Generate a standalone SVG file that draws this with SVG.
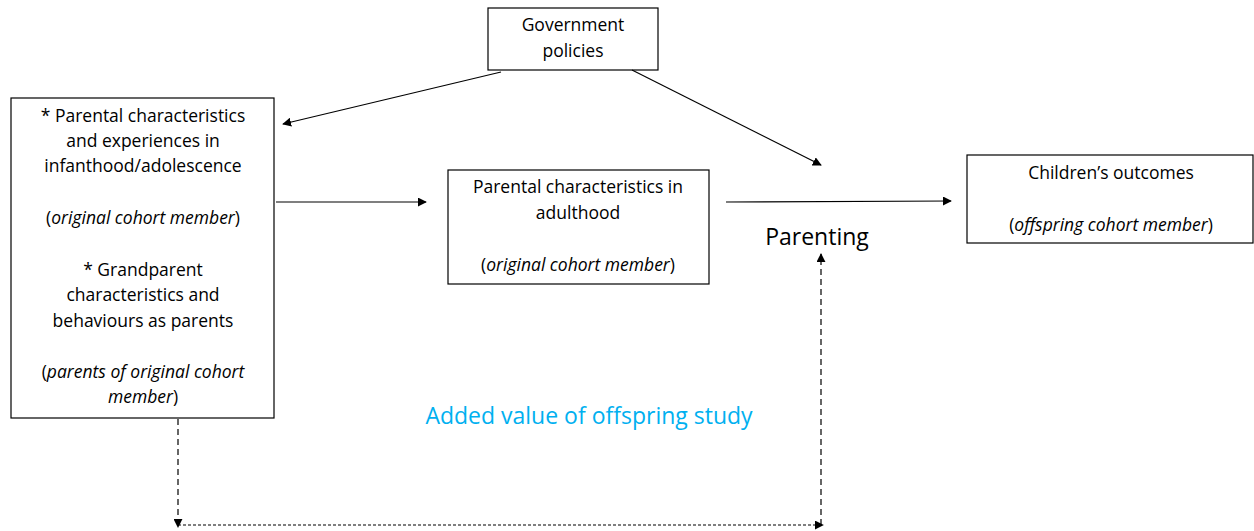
<svg xmlns="http://www.w3.org/2000/svg" width="1254" height="531" viewBox="0 0 1254 531">
<style>
.box{fill:#fff;stroke:#000;stroke-width:1.2}
text{font-family:"Open Sans","Liberation Sans",Arial,sans-serif;font-size:17.5px;fill:#000;text-anchor:middle}
.i{font-style:italic}
.ln{stroke:#000;stroke-width:1.2;fill:none}
.d1{stroke-dasharray:6,4}
.d2{stroke-dasharray:3,2}
</style>
<defs>
<marker id="ah" viewBox="0 0 10 10" refX="9" refY="5" markerWidth="9" markerHeight="9" markerUnits="userSpaceOnUse" orient="auto">
<path d="M0,0 L10,5 L0,10 z" fill="#000"/>
</marker>
</defs>
<g id="gov">
<rect class="box" x="488" y="8" width="170" height="62"/>
<text x="573" y="31">Government</text>
<text x="573" y="57">policies</text>
</g>
<g id="left">
<rect class="box" x="11" y="98" width="263" height="320"/>
<text x="143" y="122">* Parental characteristics</text>
<text x="143" y="147">and experiences in</text>
<text x="143" y="172">infanthood/adolescence</text>
<text x="143" y="224">(<tspan class="i">original cohort member</tspan>)</text>
<text x="143" y="276">* Grandparent</text>
<text x="143" y="301">characteristics and</text>
<text x="143" y="327">behaviours as parents</text>
<text x="143" y="378">(<tspan class="i">parents of original cohort</tspan></text>
<text x="143" y="403"><tspan class="i">member</tspan>)</text>
</g>
<g id="middle">
<rect class="box" x="448" y="170" width="261" height="114"/>
<text x="578" y="193">Parental characteristics in</text>
<text x="578" y="219">adulthood</text>
<text x="578" y="271">(<tspan class="i">original cohort member</tspan>)</text>
</g>
<g id="right">
<rect class="box" x="967" y="155" width="286" height="88"/>
<text x="1111" y="179">Children’s outcomes</text>
<text x="1111" y="231">(<tspan class="i">offspring cohort member</tspan>)</text>
</g>
<g id="parenting">
<text x="817" y="245" style="font-size:23px">Parenting</text>
</g>
<g id="note">
<text x="589" y="424" style="font-size:23px;fill:#00B0F0">Added value of offspring study</text>
</g>
<g id="connectors">
<line class="ln" x1="501" y1="72" x2="283" y2="124" marker-end="url(#ah)"/>
<line class="ln" x1="632" y1="70" x2="821" y2="165" marker-end="url(#ah)"/>
<line class="ln" x1="276" y1="202" x2="426" y2="202" marker-end="url(#ah)"/>
<line class="ln" x1="726" y1="202" x2="951" y2="201" marker-end="url(#ah)"/>
<line class="ln d1" x1="178" y1="419" x2="178" y2="527" marker-end="url(#ah)"/>
<line class="ln d2" x1="178" y1="525" x2="823" y2="525" marker-end="url(#ah)"/>
<line class="ln d1" x1="821" y1="525" x2="821" y2="254" marker-end="url(#ah)"/>
</g>
</svg>
